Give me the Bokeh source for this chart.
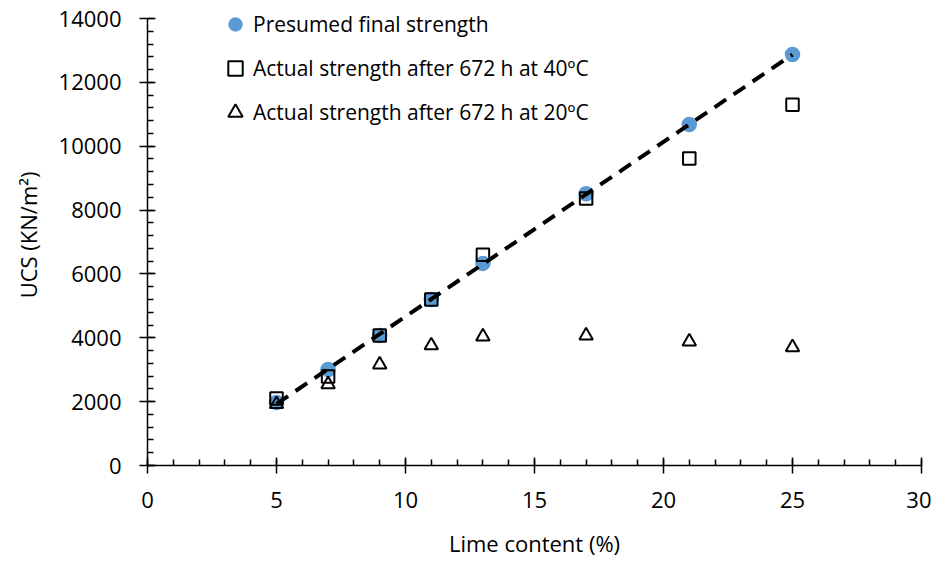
import numpy as np
from bokeh.plotting import figure
from bokeh.models import Legend, LegendItem, Range1d, FixedTicker
from bokeh.embed import file_html
from bokeh.resources import INLINE

lime = [5, 7, 9, 11, 13, 17, 21, 25]
presumed = [1970, 3010, 4070, 5200, 6330, 8510, 10680, 12870]
actual_40 = [2100, 2790, 4070, 5200, 6600, 8360, 9615, 11300]
actual_20 = [1920, 2540, 3160, 3760, 4040, 4070, 3880, 3700]

x_ticks = [0, 5, 10, 15, 20, 25, 30]
y_ticks = [0, 2000, 4000, 6000, 8000, 10000, 12000, 14000]

FONT = "Open Sans"

# frame extends a little above the 14000 mark so the legend is not clipped;
# the axis itself is bounded at 14000
AXIS_PX = 447
FRAME_PX = 461
y_top = y_ticks[-1] * FRAME_PX / AXIS_PX

p = figure(frame_width=774, frame_height=FRAME_PX, min_border_left=147, min_border_right=10,
           min_border_top=4, min_border_bottom=80,
           x_range=Range1d(0, 30), y_range=Range1d(0, y_top),
           output_backend="svg", toolbar_location=None)
p.outline_line_color = None
p.grid.visible = False

c = p.scatter(lime, presumed, marker="circle", size=15.5, fill_color="#5B9BD5", line_color=None)
s = p.scatter(lime, actual_40, marker="square", size=12.5, fill_color=None, line_color="black", line_width=2)
t = p.scatter(lime, actual_20, marker="triangle", size=13.5, fill_color=None, line_color="black", line_width=2)

k, b = np.polyfit(lime, presumed, 1)
xs = np.array([min(lime), max(lime)])
p.line(xs, k * xs + b, line_color="black", line_width=4, line_dash="14 9")

for ax in (p.xaxis[0], p.yaxis[0]):
    ax.axis_line_color = "black"
    ax.axis_line_width = 1.5
    ax.major_tick_line_color = "black"
    ax.major_tick_line_width = 1.5
    ax.minor_tick_line_color = "black"
    ax.minor_tick_line_width = 1.5
    ax.major_tick_in = 8
    ax.major_tick_out = 8
    ax.minor_tick_in = 6
    ax.minor_tick_out = 0
    ax.major_label_text_font = FONT
    ax.major_label_text_font_size = "22px"
    ax.major_label_text_color = "black"
    ax.axis_label_text_font = FONT
    ax.axis_label_text_font_size = "22px"
    ax.axis_label_text_font_style = "normal"
    ax.axis_label_text_color = "black"

p.yaxis.bounds = (y_ticks[0], y_ticks[-1])
p.xaxis.ticker = FixedTicker(ticks=x_ticks, minor_ticks=list(range(0, 31)))
p.yaxis.ticker = FixedTicker(ticks=y_ticks, minor_ticks=list(range(0, 14001, 400)))
p.xaxis.axis_label = "Lime content (%)"
p.yaxis.axis_label = "UCS (KN/m²)"
p.xaxis.major_label_standoff = 18
p.xaxis.axis_label_standoff = 17
p.yaxis.major_label_standoff = 18
p.yaxis.axis_label_standoff = 13

legend = Legend(items=[
    LegendItem(label="Presumed final strength", renderers=[c]),
    LegendItem(label="Actual strength after 672 h at 40ºC", renderers=[s]),
    LegendItem(label="Actual strength after 672 h at 20ºC", renderers=[t]),
], location=(70, 335))
legend.background_fill_alpha = 0
legend.border_line_color = None
legend.padding = 0
legend.margin = 0
legend.spacing = 8
legend.glyph_width = 36
legend.glyph_height = 36
legend.label_height = 36
legend.label_standoff = -9
legend.label_text_font = FONT
legend.label_text_font_size = "21px"
legend.label_text_color = "black"
p.add_layout(legend, "center")

open("out.html", "w").write(file_html(p, INLINE))
